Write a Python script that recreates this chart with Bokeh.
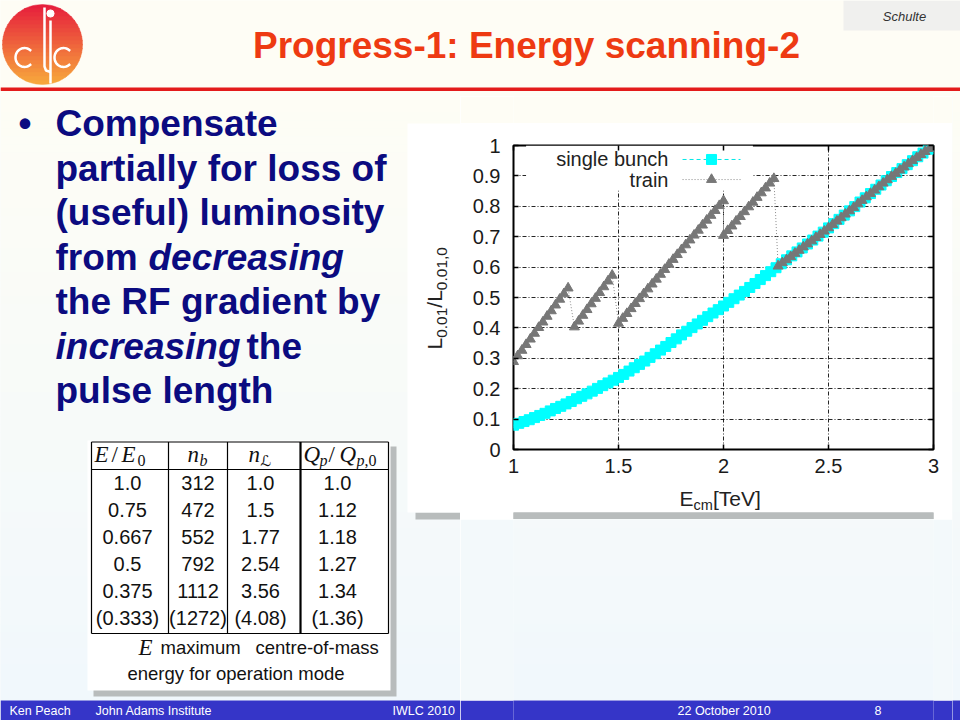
import numpy as np
from bokeh.plotting import figure
from bokeh.layouts import column, row
from bokeh.models import Range1d, FixedTicker, LinearAxis, CustomJSTickFormatter, BoxAnnotation
from bokeh.core.properties import value
from bokeh.embed import file_html
from bokeh.resources import INLINE

# ------------------------------------------------------------------ data
single_energy = [1.000, 1.025, 1.050, 1.075, 1.100, 1.125, 1.150, 1.175, 1.200, 1.225,
                 1.250, 1.275, 1.300, 1.325, 1.350, 1.375, 1.400, 1.425, 1.450, 1.475,
                 1.500, 1.525, 1.550, 1.575, 1.600, 1.625, 1.650, 1.675, 1.700, 1.725,
                 1.750, 1.775, 1.800, 1.825, 1.850, 1.875, 1.900, 1.925, 1.950, 1.975,
                 2.000, 2.025, 2.050, 2.075, 2.100, 2.125, 2.150, 2.175, 2.200, 2.225,
                 2.250, 2.275, 2.300, 2.325, 2.350, 2.375, 2.400, 2.425, 2.450, 2.475,
                 2.500, 2.525, 2.550, 2.575, 2.600, 2.625, 2.650, 2.675, 2.700, 2.725,
                 2.750, 2.775, 2.800, 2.825, 2.850, 2.875, 2.900, 2.925, 2.950, 2.975, 3.000]
single_lumi = [0.080, 0.086, 0.092, 0.098, 0.105, 0.112, 0.119, 0.127, 0.135, 0.142,
               0.150, 0.158, 0.167, 0.175, 0.183, 0.192, 0.201, 0.210, 0.219, 0.228,
               0.237, 0.247, 0.258, 0.269, 0.280, 0.291, 0.303, 0.315, 0.327, 0.339,
               0.352, 0.364, 0.377, 0.389, 0.401, 0.413, 0.425, 0.437, 0.449, 0.460,
               0.472, 0.484, 0.496, 0.508, 0.520, 0.533, 0.546, 0.559, 0.572, 0.585,
               0.598, 0.611, 0.624, 0.637, 0.650, 0.663, 0.676, 0.689, 0.702, 0.715,
               0.729, 0.743, 0.757, 0.771, 0.785, 0.799, 0.814, 0.828, 0.842, 0.856,
               0.870, 0.884, 0.898, 0.911, 0.924, 0.937, 0.950, 0.963, 0.975, 0.988, 1.000]

train_energy = [1.00, 1.02, 1.04, 1.06, 1.08, 1.10, 1.12, 1.14, 1.16, 1.18, 1.20, 1.22, 1.24, 1.26,
                1.29, 1.31, 1.33, 1.35, 1.37, 1.39, 1.41, 1.43, 1.45, 1.47,
                1.50, 1.52, 1.54, 1.56, 1.58, 1.60, 1.62, 1.64, 1.66, 1.68, 1.70, 1.72, 1.74,
                1.76, 1.78, 1.80, 1.82, 1.84, 1.86, 1.88, 1.90, 1.92, 1.94, 1.96, 1.98, 2.00,
                2.00, 2.02, 2.04, 2.06, 2.08, 2.10, 2.12, 2.14, 2.16, 2.18, 2.20, 2.22, 2.24,
                2.26, 2.28, 2.30, 2.32, 2.34, 2.36, 2.38, 2.40, 2.42, 2.44, 2.46, 2.48, 2.50,
                2.52, 2.54, 2.56, 2.58, 2.60, 2.62, 2.64, 2.66, 2.68, 2.70, 2.72, 2.74, 2.76,
                2.78, 2.80, 2.82, 2.84, 2.86, 2.88, 2.90, 2.92, 2.94, 2.96, 2.98, 3.00]
train_lumi = [0.289, 0.308, 0.326, 0.345, 0.363, 0.382, 0.401, 0.419, 0.438, 0.456, 0.475, 0.494, 0.512, 0.531,
              0.403, 0.422, 0.441, 0.460, 0.479, 0.497, 0.516, 0.535, 0.554, 0.573,
              0.415, 0.431, 0.447, 0.463, 0.480, 0.496, 0.512, 0.528, 0.544, 0.560, 0.576, 0.592, 0.609,
              0.625, 0.641, 0.657, 0.673, 0.689, 0.705, 0.721, 0.738, 0.754, 0.770, 0.786, 0.802, 0.818,
              0.704, 0.720, 0.735, 0.751, 0.766, 0.782, 0.798, 0.813, 0.829, 0.844, 0.860, 0.876, 0.891,
              0.603, 0.614, 0.624, 0.634, 0.645, 0.655, 0.666, 0.676, 0.686, 0.697, 0.707, 0.718, 0.729,
              0.740, 0.751, 0.762, 0.774, 0.785, 0.796, 0.808, 0.819, 0.831, 0.842, 0.853, 0.864, 0.876,
              0.887, 0.898, 0.908, 0.919, 0.929, 0.940, 0.950, 0.960, 0.970, 0.980, 0.990, 1.000]

x_ticks = [1, 1.5, 2, 2.5, 3]
y_ticks = [0, 0.1, 0.2, 0.3, 0.4, 0.5, 0.6, 0.7, 0.8, 0.9, 1]
series_labels = ["single bunch", "train"]

col_E = ["1.0", "0.75", "0.667", "0.5", "0.375", "(0.333)"]
col_nb = ["312", "472", "552", "792", "1112", "(1272)"]
col_nL = ["1.0", "1.5", "1.77", "2.54", "3.56", "(4.08)"]
col_Qp = ["1.0", "1.12", "1.18", "1.27", "1.34", "(1.36)"]

title_text = "Progress-1: Energy scanning-2"
bullet_lines = ["Compensate", "partially for loss of", "(useful) luminosity",
                "from ", "the RF gradient by", "", "pulse length"]
footer_left = ["Ken Peach", "John Adams Institute", "IWLC 2010"]
footer_right = ["22 October 2010", "8"]

# ------------------------------------------------------------------ styles
SANS = "Liberation Sans"
SERIF = "Liberation Serif"
NAVY = "#0b0b80"
BLUEBAR = "#3535c8"
SHADOW = "#b8bcbc"
CREAM = (254, 253, 245)
ICE = (241, 248, 252)
TOP_H = 96          # height of the title strip
SPLIT_X = 460       # left column | right column


def hexc(c):
    return "#%02x%02x%02x" % tuple(int(round(v)) for v in c)


def bg_color(y):
    t = min(max((y - 90.0) / 600.0, 0.0), 1.0)
    return hexc([CREAM[i] + (ICE[i] - CREAM[i]) * t for i in range(3)])


def add_bands(p, x0, x1):
    tops = list(range(0, 720, 8))
    cols = [bg_color(t + 4) for t in tops]
    p.quad(left=x0 - 2, right=x1 + 2, top=tops, bottom=[t + 8 for t in tops],
           fill_color=cols, line_color=cols, line_width=0.5)


def panel(x0, x1, y0, y1, bands=True):
    p = figure(width=x1 - x0, height=y1 - y0,
               x_range=Range1d(x0, x1), y_range=Range1d(y1, y0),
               output_backend="svg", toolbar_location=None,
               x_axis_location=None, y_axis_location=None,
               min_border=0, outline_line_color=None,
               background_fill_color=bg_color((y0 + y1) / 2),
               border_fill_color=bg_color((y0 + y1) / 2))
    p.grid.visible = False
    if bands:
        add_bands(p, x0, x1)
    return p


# panels in the right column share the chart's side borders (53 px / 19 px)
def rpanel(y0, y1, border, fill=None, bands=False):
    p = figure(width=492, height=y1 - y0,
               x_range=Range1d(513, 933), y_range=Range1d(y1, y0),
               output_backend="svg", toolbar_location=None,
               x_axis_location=None, y_axis_location=None,
               min_border=0, min_border_left=53, min_border_right=19,
               outline_line_color=None,
               background_fill_color=fill if fill else border,
               border_fill_color=border)
    p.grid.visible = False
    if bands:
        add_bands(p, 513, 933)
    return p


# y is the visual middle of the text line
def txt(p, x, y, s, size, color="#111111", font=SANS, style="normal",
        align="left", angle=0.0):
    p.text(x=[x], y=[y], text=[s], text_font=value(font), text_font_size=f"{size}px",
           text_font_style=style, text_color=color, text_align=align,
           text_baseline="middle", angle=angle)


# ------------------------------------------------------------------ top strip
top = panel(0, 960, 0, TOP_H)
cx, cy, r = 42.0, 44.0, 40.0
nb = 20
c_top, c_bot = (230, 32, 60), (247, 166, 60)
for i in range(nb):
    ya = cy - r + 2 * r * i / nb
    yb = ya + 2 * r / nb + 0.6
    ys = np.linspace(ya, min(yb, cy + r), 8)
    half = np.sqrt(np.clip(r ** 2 - (ys - cy) ** 2, 0, None))
    xs = np.concatenate([cx - half, (cx + half)[::-1]])
    yy = np.concatenate([ys, ys[::-1]])
    t = i / (nb - 1)
    col = hexc([c_top[k] + (c_bot[k] - c_top[k]) * t for k in range(3)])
    top.patch(xs, yy, fill_color=col, line_color=col, line_width=0.5)
top.line([44, 44, 45.5, 50], [7, 66, 70, 71.5], line_color="white", line_width=2.5)
top.line([50, 50], [20, 83], line_color="white", line_width=2.5)
top.circle([50], [13], radius=3.6, fill_color="white", line_color="white")
th = np.linspace(0.75, 2 * np.pi - 0.75, 30)
for ccx in (24.0, 63.0):
    top.line(ccx + 9 * np.cos(th), 57 + 9.5 * np.sin(th), line_color="white", line_width=2.5)
top.quad(left=843, right=965, top=0, bottom=30, fill_color="#f0f0ee", line_color=None)
txt(top, 904, 16, "Schulte", 13, color="#333333", style="italic", align="center")
txt(top, 526, 45, title_text, 37, color="#ee3a12", style="bold", align="center")
top.quad(left=0, right=960, top=87, bottom=90.5, fill_color="#e31b1b", line_color=None)

# ------------------------------------------------------------------ left column
left = panel(0, SPLIT_X, TOP_H, 720)
left.quad(left=415, right=470, top=512, bottom=519, fill_color=SHADOW, line_color=None)
left.quad(left=407, right=470, top=123, bottom=512, fill_color="white", line_color=None)
# y axis title  L_{0.01}/L_{0.01,0}  (rotated, reading upwards)
ang = np.pi / 2
y0 = 349.0
pieces = [("L", 21, 434, 11.68), ("0.01", 15.5, 441, 30.16), ("/", 21, 434, 5.84),
          ("L", 21, 434, 11.68), ("0.01,0", 15.5, 441, 43.1)]
for s, fs, xm, w in pieces:
    txt(left, xm, y0, s, fs, color="#222222", angle=ang)
    y0 -= w
# bullet text
txt(left, 18, 123, "\u2022", 37, color=NAVY, style="bold")
bl_y = [123, 167.5, 212, 256.5, 301, 345.5, 390]
for i, s in enumerate(bullet_lines):
    if s:
        txt(left, 55, bl_y[i], s, 37, color=NAVY, style="bold")
txt(left, 148, bl_y[3], "decreasing", 37, color=NAVY, style="bold italic")
txt(left, 55, bl_y[5], "increasing", 37, color=NAVY, style="bold italic")
txt(left, 246, bl_y[5], "the", 37, color=NAVY, style="bold")
# table card
left.quad(left=93, right=396, top=446, bottom=696, fill_color=SHADOW, line_color=None)
left.quad(left=87, right=390, top=440, bottom=690, fill_color="white", line_color=None)
left.segment(x0=[91, 91, 91], y0=[441.5, 469, 633], x1=[388, 388, 388], y1=[441.5, 469, 633],
             line_color="black", line_width=1.2)
left.segment(x0=[91, 168, 227, 388], y0=[441.5] * 4, x1=[91, 168, 227, 388], y1=[633] * 4,
             line_color="black", line_width=1.2)
left.segment(x0=[300], y0=[441.5], x1=[300], y1=[633], line_color="black", line_width=2.2)
hm, sm = 454, 460
txt(left, 94, hm, "E", 23, font=SERIF, style="italic")
txt(left, 111, hm, "/", 23, font=SERIF)
txt(left, 121, hm, "E", 23, font=SERIF, style="italic")
txt(left, 137, sm, "0", 16, font=SERIF)
txt(left, 187, hm, "n", 23, font=SERIF, style="italic")
txt(left, 199, sm, "b", 16, font=SERIF, style="italic")
txt(left, 248, hm, "n", 23, font=SERIF, style="italic")
txt(left, 260, sm, "\u2112", 15, font="DejaVu Sans")
txt(left, 303, hm, "Q", 23, font=SERIF, style="italic")
txt(left, 319, sm, "p", 16, font=SERIF, style="italic")
txt(left, 328, hm, "/", 23, font=SERIF)
txt(left, 339, hm, "Q", 23, font=SERIF, style="italic")
txt(left, 356, sm, "p", 16, font=SERIF, style="italic")
txt(left, 364, sm, ",0", 16, font=SERIF)
row_y = [482.5, 509.5, 536.5, 563.5, 590.5, 617.5]
for colvals, cxp in ((col_E, 127), (col_nb, 197.5), (col_nL, 260), (col_Qp, 337)):
    left.text(x=[cxp] * len(colvals), y=row_y, text=colvals, text_font=value(SANS),
              text_font_size="20px", text_color="#111111", text_align="center",
              text_baseline="middle")
txt(left, 138, 647, "E", 23, font=SERIF, style="italic")
txt(left, 160, 647, "maximum", 18.5)
txt(left, 255, 647, "centre-of-mass", 18.5)
txt(left, 127, 673, "energy for operation mode", 18.5)
left.quad(left=0, right=470, top=700, bottom=720, fill_color=BLUEBAR, line_color=None)
for s, xf in zip(footer_left, [9, 95, 392]):
    txt(left, xf, 710, s, 12.5, color="white")

# ------------------------------------------------------------------ right column
midtop = rpanel(TOP_H, 123, bg_color(110))

chart = figure(width=492, height=361, x_range=Range1d(1, 3), y_range=Range1d(0, 1),
               output_backend="svg", toolbar_location=None,
               min_border_left=53, min_border_right=19, min_border_top=22, min_border_bottom=35,
               background_fill_color="white", border_fill_color="white",
               outline_line_color="black", outline_line_width=2)
fmt = CustomJSTickFormatter(code="return (Math.abs(tick - Math.round(tick)) < 1e-9) ? tick.toFixed(0) : tick.toFixed(1);")
empty = CustomJSTickFormatter(code="return '';")
for ax, ticks, so in ((chart.xaxis[0], x_ticks, 9), (chart.yaxis[0], y_ticks, 13)):
    ax.ticker = FixedTicker(ticks=ticks)
    ax.formatter = fmt
    ax.major_tick_in = 5
    ax.major_tick_out = 0
    ax.major_tick_line_width = 1.5
    ax.major_tick_line_color = "black"
    ax.minor_tick_line_color = None
    ax.axis_line_color = None
    ax.major_label_standoff = so
    ax.major_label_text_font = SANS
    ax.major_label_text_font_size = "20px"
    ax.major_label_text_color = "#1a1a1a"
for ticks, place in ((x_ticks, "above"), (y_ticks, "right")):
    ax = LinearAxis(ticker=FixedTicker(ticks=ticks), formatter=empty, major_tick_in=5,
                    major_tick_out=0, major_tick_line_width=1.5, minor_tick_line_color=None,
                    axis_line_color=None, major_label_standoff=0,
                    major_label_text_font_size="1px")
    chart.add_layout(ax, place)
for g in (chart.xgrid[0], chart.ygrid[0]):
    g.grid_line_color = "black"
    g.grid_line_dash = "4 2 1 2"
    g.grid_line_width = 1
    g.grid_line_alpha = 0.85
chart.quad(left=1.06, right=2.14, bottom=0.852, top=1.0, fill_color="white", line_color=None)
chart.line(single_energy, single_lumi, line_color="#00e8e8", line_dash="4 3", line_width=1)
chart.scatter(single_energy, single_lumi, marker="square", size=10,
              fill_color="#00ffff", line_color="#00ffff")
chart.line(train_energy, train_lumi, line_color="#8a8a8a", line_dash="1 2", line_width=1)
chart.scatter(train_energy, train_lumi, marker="triangle", size=10,
              fill_color="#777777", line_color="#777777")
chart.text(x=[1.738, 1.738], y=[0.954, 0.888], text=series_labels, text_font=value(SANS),
           text_font_size="20px", text_color="#222222", text_align="right", text_baseline="middle")
chart.line([1.805, 2.081], [0.954, 0.954], line_color="#00e8e8", line_dash="4 3", line_width=1)
chart.scatter([1.943], [0.954], marker="square", size=10, fill_color="#00ffff", line_color="#00ffff")
chart.line([1.805, 2.081], [0.888, 0.888], line_color="#8a8a8a", line_dash="1 2", line_width=1)
chart.scatter([1.943], [0.888], marker="triangle", size=10, fill_color="#777777", line_color="#777777")

below1 = rpanel(484, 519, "white")
below1.quad(left=500, right=960, top=512, bottom=520, fill_color=SHADOW, line_color=None)
# card shadow also across the side borders (annotations are not bound to the frame)
below1.add_layout(BoxAnnotation(left=SPLIT_X, right=952, top=512, bottom=519,
                                fill_color=SHADOW, fill_alpha=1.0, line_color=None))
below1.add_layout(BoxAnnotation(left=948, right=952, top=484, bottom=519,
                                fill_color=SHADOW, fill_alpha=1.0, line_color=None))
txt(below1, 679, 498, "E", 21, color="#222222")
txt(below1, 693, 504, "cm", 14.5, color="#222222")
txt(below1, 712.5, 498, " [TeV]", 21, color="#222222")
below2 = rpanel(519, 700, bg_color(610), bands=True)
below3 = rpanel(700, 720, BLUEBAR)
for s, xf in zip(footer_right, [677, 874]):
    txt(below3, xf, 710, s, 12.5, color="white")

rstrip = panel(952, 960, TOP_H, 720)
rstrip.quad(left=940, right=970, top=700, bottom=720, fill_color=BLUEBAR, line_color=None)

layout = column(top, row(left, column(midtop, chart, below1, below2, below3), rstrip))
open("out.html", "w").write(file_html(layout, INLINE))
